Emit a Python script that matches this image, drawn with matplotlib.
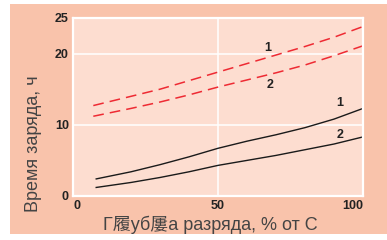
import matplotlib.pyplot as plt
from matplotlib.patches import Rectangle

# discharge depth, % of C
x_dash = [7, 20, 30, 40, 50, 60, 70, 80, 90, 100]
x_solid = [8, 20, 30, 40, 50, 60, 70, 80, 90, 100]

# charge time, h
dash_1 = [12.7, 14.0, 15.0, 16.2, 17.4, 18.6, 19.8, 21.0, 22.3, 23.8]
dash_2 = [11.2, 12.3, 13.2, 14.2, 15.3, 16.3, 17.3, 18.4, 19.7, 21.1]
solid_1 = [2.4, 3.4, 4.4, 5.5, 6.7, 7.7, 8.6, 9.6, 10.8, 12.3]
solid_2 = [1.2, 1.9, 2.6, 3.4, 4.3, 5.0, 5.7, 6.5, 7.3, 8.3]

x_ticks = [0, 50, 100]
y_ticks = [0, 10, 20, 25]

xlabel = 'Г履уб屢а разряда, % от С'
ylabel = 'Время заряда, ч'

fonts = ['Liberation Sans', 'Noto Sans CJK JP', 'DejaVu Sans']
plt.rcParams['font.family'] = fonts

fig = plt.figure(figsize=(3.87, 2.40), dpi=100)
fig.patch.set_facecolor('white')
fig.patches.append(Rectangle((10 / 387, 6 / 240), 1 - 10 / 387, 230 / 240,
                             transform=fig.transFigure, facecolor='#F9C3AB',
                             edgecolor='none', zorder=-5))

ax = fig.add_axes([73 / 387, 44 / 240, 290 / 387, 178 / 240])
ax.set_zorder(2)
ax.set_facecolor('#FDDDD0')

ax.plot(x_dash, dash_1, color='#EE2A33', lw=1.1, dashes=(7, 4))
ax.plot(x_dash, dash_2, color='#EE2A33', lw=1.1, dashes=(7, 4))
ax.plot(x_solid, solid_1, color='#1a1a1a', lw=1.0)
ax.plot(x_solid, solid_2, color='#1a1a1a', lw=1.0)

lab = dict(fontsize=9, fontweight='bold', color='#222222', ha='center', va='center')
ax.text(67, 20.8, '1', **lab)
ax.text(68, 15.6, '2', **lab)
ax.text(92, 13.1, '1', **lab)
ax.text(92, 8.6, '2', **lab)

ax.set_xlim(0, 100)
ax.set_ylim(0, 25)
ax.set_xticks(x_ticks)
ax.set_yticks(y_ticks)
ax.tick_params(length=0, labelsize=9, colors='#222222', pad=3)
for t in ax.get_xticklabels() + ax.get_yticklabels():
    t.set_fontweight('bold')
xl = ax.get_xticklabels()
xl[0].set_horizontalalignment('left')
xl[-1].set_horizontalalignment('right')
ax.grid(True, color='white', lw=1.1)
for s in ax.spines.values():
    s.set_color('white')
    s.set_linewidth(1.6)

fig.text(210 / 387, 1 - 225 / 240, xlabel, fontsize=13, color='#444444',
         ha='center', va='center')
fig.text(33 / 387, 1 - 144 / 240, ylabel, fontsize=13, color='#444444',
         ha='center', va='center', rotation=90)

plt.savefig('out.png', dpi=100, facecolor=fig.get_facecolor())
